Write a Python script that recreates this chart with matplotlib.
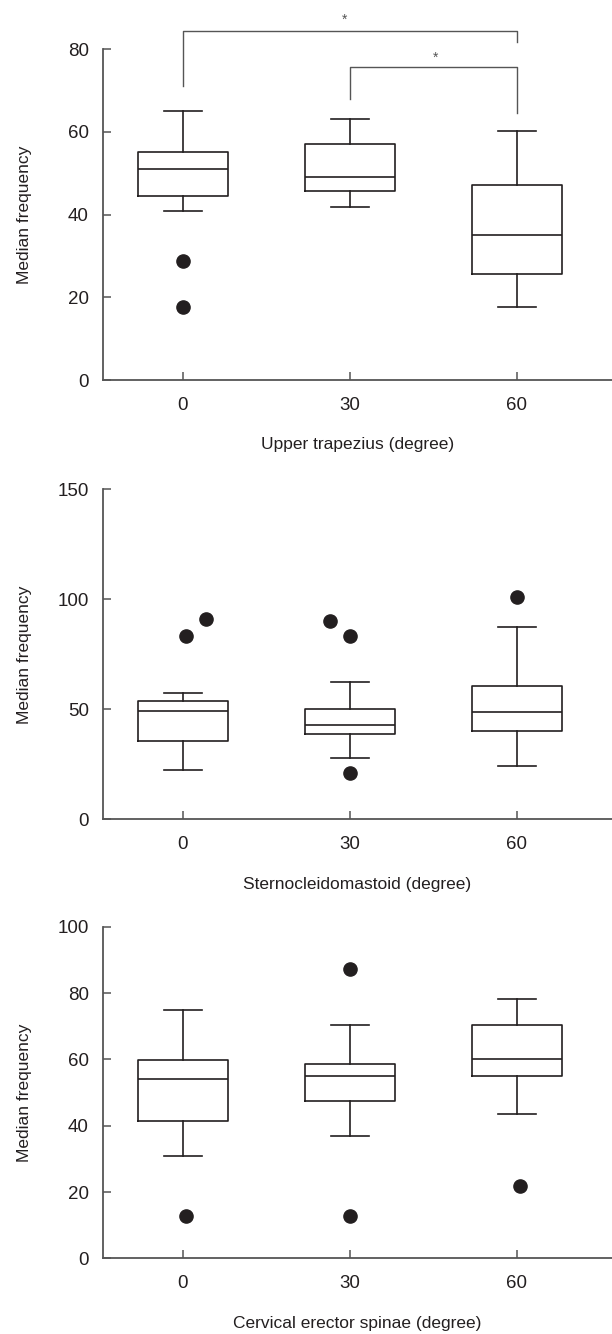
import matplotlib
matplotlib.use("Agg")
import matplotlib.pyplot as plt

plt.rcParams['font.family'] = ['Liberation Sans', 'DejaVu Sans']

degrees = ["0", "30", "60"]

# box stats: whisker low, Q1, median, Q3, whisker high
trap_low = [40.9, 41.8, 17.7]
trap_q1 = [44.5, 45.8, 25.6]
trap_med = [50.9, 49.0, 35.0]
trap_q3 = [55.2, 57.0, 47.1]
trap_high = [65.1, 63.0, 60.1]
trap_out = [[28.7, 17.6], [], []]
trap_jit = [[0, 0], [], []]

scm_low = [22.4, 28.0, 24.1]
scm_q1 = [35.6, 38.8, 40.1]
scm_med = [49.1, 42.9, 48.9]
scm_q3 = [53.9, 50.0, 60.7]
scm_high = [57.3, 62.4, 87.4]
scm_out = [[83.3, 91.2], [90.3, 83.3, 20.9], [100.9]]
scm_jit = [[0.02, 0.14], [-0.12, 0, 0], [0]]

ces_low = [30.8, 37.0, 43.5]
ces_q1 = [41.5, 47.4, 55.1]
ces_med = [54.0, 55.1, 60.0]
ces_q3 = [59.9, 58.5, 70.3]
ces_high = [74.9, 70.3, 78.3]
ces_out = [[12.8], [87.2, 12.8], [21.8]]
ces_jit = [[0.02], [0, 0], [0.02]]

ink = "#231f20"
spine_col = "#555555"


def draw_panel(ax, low, q1, med, q3, high, outl, jit, ymax, yticks, xlabel):
    stats = []
    for i in range(3):
        stats.append({"whislo": low[i], "q1": q1[i], "med": med[i],
                      "q3": q3[i], "whishi": high[i], "fliers": []})
    pos = list(range(3))
    ax.bxp(stats, positions=pos, widths=0.54, capwidths=0.23, showfliers=False,
           boxprops=dict(color=ink, linewidth=1.2),
           whiskerprops=dict(color=ink, linewidth=1.2),
           capprops=dict(color=ink, linewidth=1.2),
           medianprops=dict(color=ink, linewidth=1.2))
    for i in range(3):
        for v, j in zip(outl[i], jit[i]):
            ax.plot(i + j, v, "o", color=ink, markersize=9.5, clip_on=False)

    ax.set_xlim(-0.48, 2.57)
    ax.set_ylim(0, ymax)
    ax.set_xticks(pos)
    ax.set_xticklabels(degrees)
    ax.set_yticks(yticks)
    for s in ["top", "right"]:
        ax.spines[s].set_visible(False)
    for s in ["left", "bottom"]:
        ax.spines[s].set_color(spine_col)
        ax.spines[s].set_linewidth(1.3)
    ax.tick_params(direction="in", length=5.5, width=1.1, color=spine_col,
                   labelsize=13.5, labelcolor=ink)
    ax.tick_params(axis="x", pad=12)
    ax.tick_params(axis="y", pad=10)
    ax.set_ylabel("Median frequency", fontsize=12.5, color=ink)
    ax.set_xlabel(xlabel, fontsize=12.5, color=ink)
    ax.yaxis.set_label_coords(-0.153, 0.5)
    ax.xaxis.set_label_coords(0.5, -0.196)
    ax.xaxis.label.set_va("center")
    ax.yaxis.label.set_va("center")


fig = plt.figure(figsize=(6.12, 13.34), dpi=100)

ax1 = fig.add_axes([0.168, 0.7151, 0.832, 0.2481])
draw_panel(ax1, trap_low, trap_q1, trap_med, trap_q3, trap_high, trap_out, trap_jit,
           80, [0, 20, 40, 60, 80], "Upper trapezius (degree)")

# significance brackets
br = dict(color=spine_col, linewidth=1.0, clip_on=False)
ax1.plot([0, 0, 2, 2], [71.0, 84.3, 84.3, 81.6], **br)
ax1.plot([1, 1, 2, 2], [67.9, 75.6, 75.6, 64.5], **br)
ax1.text(0.97, 87.0, "*", ha="center", va="center", fontsize=10, color=spine_col, clip_on=False)
ax1.text(1.51, 78.0, "*", ha="center", va="center", fontsize=10, color=spine_col, clip_on=False)

ax2 = fig.add_axes([0.168, 0.3858, 0.832, 0.2474])
draw_panel(ax2, scm_low, scm_q1, scm_med, scm_q3, scm_high, scm_out, scm_jit,
           150, [0, 50, 100, 150], "Sternocleidomastoid (degree)")

ax3 = fig.add_axes([0.168, 0.0567, 0.832, 0.2486])
draw_panel(ax3, ces_low, ces_q1, ces_med, ces_q3, ces_high, ces_out, ces_jit,
           100, [0, 20, 40, 60, 80, 100], "Cervical erector spinae (degree)")

fig.savefig("out.png", dpi=100)
